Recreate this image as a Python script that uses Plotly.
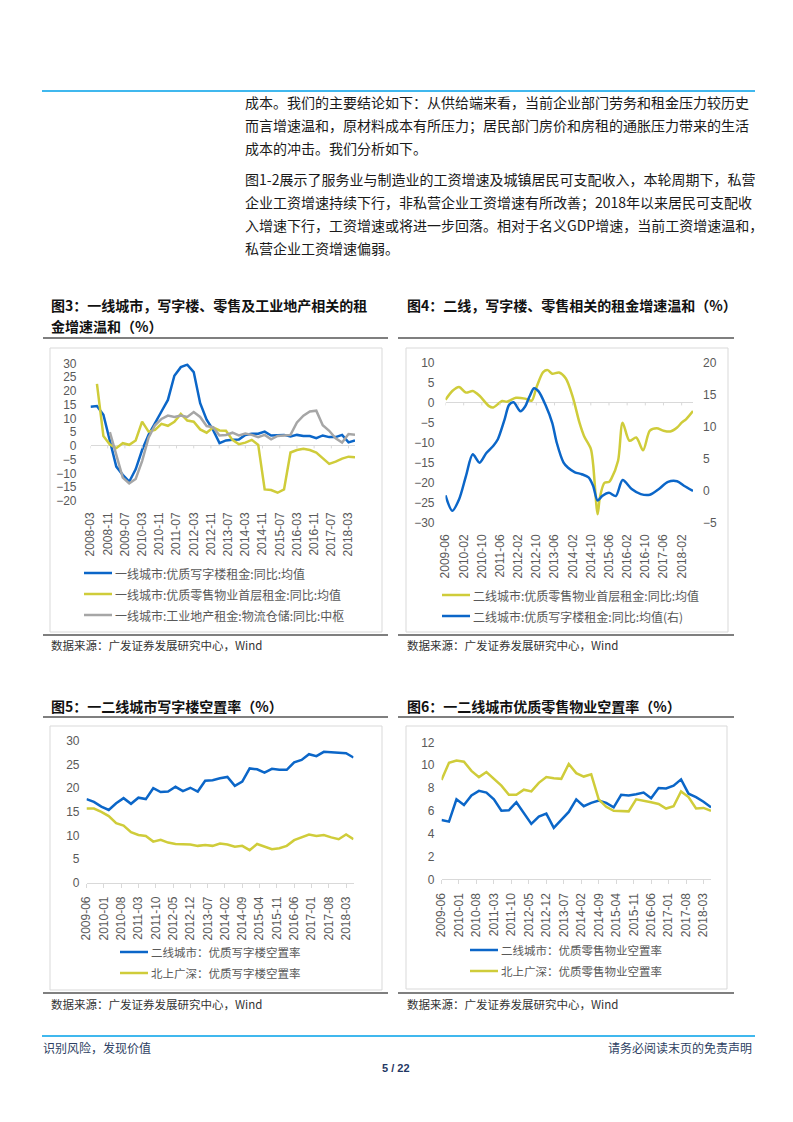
import plotly.graph_objects as go

# ---------------- DATA ----------------
# Fig 3: quarterly, 2008-03 .. 2018-06
f3_start = "2008-03"
f3_blue = [14.2, 14.5, 11.3, 2.0, -7.5, -10.5, -13.0, -8.5, -1.5, 4.0, 8.5, 12.5, 16.7, 25.5,
           28.6, 29.5, 26.8, 15.5, 9.5, 5.8, 1.0, 2.0, 2.2, 2.3, 4.0, 4.4, 4.4, 5.2, 3.8, 4.0,
           4.0, 3.4, 4.0, 3.6, 3.6, 2.8, 3.8, 3.2, 3.2, 4.0, 1.3, 2.0]
f3_yellow = [None, 22.5, 3.6, 0.5, -0.8, 1.0, 0.4, 2.0, 8.8, 5.2, 5.8, 8.0, 7.3, 8.8, 11.6, 9.2,
             8.8, 6.0, 4.8, 6.7, 5.6, 5.5, 2.2, 0.6, 1.2, 2.2, 0.4, -15.8, -16.0, -17.0, -15.8,
             -2.4, -1.5, -1.0, -1.5, -2.4, -4.5, -6.5, -5.7, -4.6, -3.9, -4.1]
f3_gray = [None, None, None, 5.0, -3.0, -11.5, -13.6, -12.0, -5.5, 3.0, 7.5, 9.8, 11.0, 10.5,
           11.0, 10.5, 12.3, 10.5, 7.2, 6.8, 3.8, 4.0, 4.8, 3.8, 4.5, 4.0, 3.2, 4.0, 2.4, 3.6,
           3.8, 4.0, 8.5, 11.0, 12.5, 12.8, 7.5, 5.5, 2.8, 1.2, 4.3, 4.1]
f3_ticks = ["2008-03", "2008-11", "2009-07", "2010-03", "2010-11", "2011-07", "2012-03",
            "2012-11", "2013-07", "2014-03", "2014-11", "2015-07", "2016-03", "2016-11",
            "2017-07", "2018-03"]
f3_names = ["一线城市:优质写字楼租金:同比:均值", "一线城市:优质零售物业首层租金:同比:均值",
            "一线城市:工业地产租金:物流仓储:同比:中枢"]

# Fig 4
f4_start = "2009-06"
f4_yellow_dates = ["2009-06", "2009-09", "2009-12", "2010-03", "2010-06", "2010-09", "2011-01",
                   "2011-03", "2011-07", "2011-09", "2012-01", "2012-05", "2012-08", "2012-10",
                   "2013-01", "2013-03", "2013-05", "2013-08", "2013-11", "2014-02", "2014-05",
                   "2014-07", "2014-10", "2014-11", "2015-01", "2015-02", "2015-04", "2015-06",
                   "2015-07", "2015-10", "2015-12", "2016-03", "2016-06", "2016-09", "2016-12",
                   "2017-03", "2017-06", "2017-09", "2017-12", "2018-02", "2018-04", "2018-07"]
f4_yellow = [0.7, 2.9, 3.9, 2.5, 2.9, 1.7, -0.8, -1.2, 0.4, 0.2, 1.2, 1.0, 0.5, 3.7, 7.6, 8.1,
             7.2, 7.5, 6.0, 1.5, -5.0, -8.3, -11.5, -15.3, -27.8, -23.6, -20.0, -19.8, -19.0,
             -14.5, -5.0, -9.5, -8.7, -11.9, -7.0, -6.4, -7.0, -7.2, -6.2, -5.0, -4.1, -2.1]
f4_blue_dates = ["2009-06", "2009-09", "2009-12", "2010-03", "2010-06", "2010-09", "2010-12",
                 "2011-03", "2011-05", "2011-08", "2011-10", "2011-12", "2012-03", "2012-05",
                 "2012-07", "2012-09", "2012-11", "2013-02", "2013-05", "2013-07", "2013-10",
                 "2013-12", "2014-03", "2014-06", "2014-09", "2014-11", "2015-01", "2015-03",
                 "2015-06", "2015-09", "2015-12", "2016-04", "2016-08", "2016-12", "2017-04",
                 "2017-08", "2017-12", "2018-03", "2018-07"]
f4_blue = [-0.7, -3.1, -1.3, 2.3, 5.7, 4.4, 5.9, 7.0, 8.0, 11.1, 13.4, 13.8, 12.4, 13.1, 14.7,
           16.0, 15.5, 13.4, 10.6, 7.5, 4.4, 3.6, 2.9, 2.6, 2.1, 0.8, -1.5, -0.8, -0.3, -0.8,
           1.7, 0.3, -0.5, -0.6, 0.3, 1.4, 1.5, 0.8, 0.0]
f4_ticks = ["2009-06", "2010-02", "2010-10", "2011-06", "2012-02", "2012-10", "2013-06",
            "2014-02", "2014-10", "2015-06", "2016-02", "2016-10", "2017-06", "2018-02"]
f4_names = ["二线城市:优质零售物业首层租金:同比:均值", "二线城市:优质写字楼租金:同比:均值(右)"]

# Fig 5 / Fig 6: quarterly, 2009-06 .. 2018-06
f56_start = "2009-06"
f5_blue = [17.7, 17.1, 16.1, 15.4, 16.8, 17.9, 16.7, 18.0, 17.7, 20.0, 19.2, 19.3, 20.3, 19.4,
           20.1, 19.3, 21.6, 21.7, 22.1, 22.4, 20.5, 21.4, 24.2, 24.0, 23.3, 24.1, 23.9, 23.9,
           25.5, 26.0, 27.2, 26.8, 27.7, 27.6, 27.4, 27.4, 26.5]
f5_yellow = [15.7, 15.7, 15.0, 14.1, 12.6, 12.1, 10.7, 10.1, 9.9, 8.7, 9.1, 8.5, 8.2, 8.2, 8.1,
             7.8, 8.0, 7.8, 8.3, 8.1, 7.6, 7.8, 6.9, 8.2, 7.6, 7.1, 7.3, 7.8, 9.0, 9.6, 10.2,
             9.9, 10.1, 9.6, 9.2, 10.2, 9.2]
f6_blue = [5.2, 5.05, 7.0, 6.5, 7.35, 7.75, 7.6, 7.0, 6.0, 6.05, 6.75, 5.8, 4.85, 5.5, 5.75,
           4.5, 5.2, 5.9, 7.0, 6.4, 6.7, 6.9, 6.7, 6.3, 7.4, 7.35, 7.45, 7.6, 7.1, 8.0, 7.95,
           8.2, 8.75, 7.5, 7.2, 6.8, 6.3]
f6_yellow = [8.7, 10.2, 10.4, 10.3, 9.5, 8.95, 9.4, 8.8, 8.2, 7.4, 7.4, 7.85, 7.7, 8.45, 8.95,
             8.85, 8.8, 10.1, 9.3, 9.0, 9.2, 7.0, 6.35, 6.0, 6.0, 5.95, 7.0, 6.9, 6.75, 6.6,
             6.2, 6.4, 7.7, 7.2, 6.2, 6.25, 6.0]
f56_ticks = ["2009-06", "2010-01", "2010-08", "2011-03", "2011-10", "2012-05", "2012-12",
             "2013-07", "2014-02", "2014-09", "2015-04", "2015-11", "2016-06", "2017-01",
             "2017-08", "2018-03"]
f5_names = ["二线城市：优质写字楼空置率", "北上广深：优质写字楼空置率"]
f6_names = ["二线城市：优质零售物业空置率", "北上广深：优质零售物业空置率"]

body_lines = [
    "成本。我们的主要结论如下：从供给端来看，当前企业部门劳务和租金压力较历史",
    "而言增速温和，原材料成本有所压力；居民部门房价和房租的通胀压力带来的生活",
    "成本的冲击。我们分析如下。",
    "图1-2展示了服务业与制造业的工资增速及城镇居民可支配收入，本轮周期下，私营",
    "企业工资增速持续下行，非私营企业工资增速有所改善；2018年以来居民可支配收",
    "入增速下行，工资增速或将进一步回落。相对于名义GDP增速，当前工资增速温和，",
    "私营企业工资增速偏弱。",
]

# ---------------- HELPERS ----------------
W, H = 793, 1122
BLUE, YELLOW, GRAY = "#0b66c8", "#cfcc3a", "#a6a6a6"
CJK = "Noto Sans CJK SC"
NUM = "Liberation Sans, Arial"
TICK = "#595959"


def px(x):
    return x / W


def py(y):
    return 1 - y / H


def midx(s, start):
    y, m = map(int, s.split("-"))
    y0, m0 = map(int, start.split("-"))
    return (y - y0) * 12 + (m - m0)


def quarters(start, n):
    y, m = map(int, start.split("-"))
    out = []
    for i in range(n):
        mm = m - 1 + 3 * i
        out.append("%d-%02d" % (y + mm // 12, mm % 12 + 1))
    return out


fig = go.Figure()

# Fig 3 traces
d3 = quarters(f3_start, len(f3_blue))
x3 = [midx(d, f3_start) for d in d3]
for vals, col, nm in [(f3_blue, BLUE, f3_names[0]), (f3_yellow, YELLOW, f3_names[1]),
                      (f3_gray, GRAY, f3_names[2])]:
    fig.add_trace(go.Scatter(x=x3, y=vals, mode="lines", name=nm, xaxis="x", yaxis="y",
                             line=dict(color=col, width=2.5), connectgaps=False))

# Fig 4 traces
fig.add_trace(go.Scatter(x=[midx(d, f4_start) for d in f4_yellow_dates], y=f4_yellow,
                         mode="lines", name=f4_names[0], xaxis="x2", yaxis="y2",
                         line=dict(color=YELLOW, width=2.5, shape="spline", smoothing=0.8)))
fig.add_trace(go.Scatter(x=[midx(d, f4_start) for d in f4_blue_dates], y=f4_blue,
                         mode="lines", name=f4_names[1], xaxis="x2", yaxis="y3",
                         line=dict(color=BLUE, width=2.5, shape="spline", smoothing=0.8)))

# Fig 5 / 6 traces
d56 = quarters(f56_start, len(f5_blue))
x56 = [midx(d, f56_start) for d in d56]
fig.add_trace(go.Scatter(x=x56, y=f5_blue, mode="lines", name=f5_names[0], xaxis="x3",
                         yaxis="y4", line=dict(color=BLUE, width=2.5)))
fig.add_trace(go.Scatter(x=x56, y=f5_yellow, mode="lines", name=f5_names[1], xaxis="x3",
                         yaxis="y4", line=dict(color=YELLOW, width=2.5)))
fig.add_trace(go.Scatter(x=x56, y=f6_blue, mode="lines", name=f6_names[0], xaxis="x4",
                         yaxis="y5", line=dict(color=BLUE, width=2.5)))
fig.add_trace(go.Scatter(x=x56, y=f6_yellow, mode="lines", name=f6_names[1], xaxis="x4",
                         yaxis="y5", line=dict(color=YELLOW, width=2.5)))

tf = dict(family=NUM, size=12, color=TICK)


def xax(dom, rng, tickvals, ticktext, anchor, line=False):
    d = dict(domain=[px(dom[0]), px(dom[1])], range=rng, anchor=anchor, tickmode="array",
             tickvals=tickvals, ticktext=ticktext, tickangle=-90, showgrid=False,
             zeroline=False, tickfont=tf, fixedrange=True, automargin=False)
    if line:
        d.update(showline=True, linecolor="#d9d9d9", linewidth=1, ticks="outside",
                 ticklen=4, tickcolor="#d9d9d9", ticklabelstandoff=4)
    else:
        d.update(showline=False, ticks="", ticklabelstandoff=8)
    return d


def yax(dom, rng, dtick, anchor, zero=False, standoff=10, **kw):
    d = dict(domain=[py(dom[1]), py(dom[0])], range=rng, anchor=anchor, dtick=dtick,
             tick0=0, showgrid=False, showline=False, ticks="", tickfont=tf,
             ticklabelstandoff=standoff, zeroline=zero, fixedrange=True, automargin=False)
    if zero:
        d.update(zerolinecolor="#d9d9d9", zerolinewidth=1)
    d.update(kw)
    return d


t3 = [midx(t, f3_start) for t in f3_ticks]
t4 = [midx(t, f4_start) for t in f4_ticks]
t56 = [midx(t, f56_start) for t in f56_ticks]

layout = dict(
    template="none",
    width=W, height=H, margin=dict(l=0, r=0, t=0, b=0, pad=0, autoexpand=False),
    showlegend=False,
    paper_bgcolor="white", plot_bgcolor="rgba(0,0,0,0)",
    xaxis=xax((90.5, 355), [0, 123], t3, f3_ticks, "y"),
    yaxis=yax((363.3, 501), [-20, 30], 5, "x", zero=True, standoff=13),
    xaxis2=xax((445.5, 693), [0, 109], t4, f4_ticks, "y2"),
    yaxis2=yax((362.5, 523), [-30, 10], 5, "x2", zero=True, standoff=10),
    yaxis3=yax((362.5, 523), [-5, 20], 5, "x2", standoff=9, overlaying="y2", side="right"),
    xaxis3=xax((86.5, 353.5), [0, 108], t56, f56_ticks, "y4", line=True),
    yaxis4=yax((741, 882.7), [0, 30], 5, "x3", standoff=6),
    xaxis4=xax((441.5, 711), [0, 108], t56, f56_ticks, "y5", line=True),
    yaxis5=yax((742.3, 879.3), [0, 12], 2, "x4", standoff=6),
)
fig.update_layout(**layout)

shapes = []
ann = []


def hline(x0, x1, y, color, width=1):
    shapes.append(dict(type="line", xref="paper", yref="paper", x0=px(x0), x1=px(x1),
                       y0=py(y), y1=py(y), line=dict(color=color, width=width)))


def box(x0, x1, y0, y1):
    shapes.append(dict(type="rect", xref="paper", yref="paper", x0=px(x0), x1=px(x1),
                       y0=py(y1), y1=py(y0), line=dict(color="#d9d9d9", width=1),
                       fillcolor="rgba(0,0,0,0)", layer="below"))


def text(x, y, s, size=12, color="#222222", anchor="left", bold=False, family=CJK):
    ann.append(dict(xref="paper", yref="paper", x=px(x), y=py(y), text=("<b>%s</b>" % s) if bold else s,
                    showarrow=False, xanchor=anchor, yanchor="middle",
                    font=dict(family=family, size=size, color=color), borderpad=0))


def legend_item(x, y, color, label, size=12):
    shapes.append(dict(type="line", xref="paper", yref="paper", x0=px(x), x1=px(x + 28),
                       y0=py(y), y1=py(y), line=dict(color=color, width=2.5)))
    text(x + 30, y, label, size=size, color=TICK)


# page rules
hline(42, 755, 91, "#00a0e9", 1.5)
hline(42, 755, 1036, "#00a0e9", 1.5)

# body text
for s, yy in zip(body_lines, [102, 125, 148, 179, 202, 225, 248]):
    text(244, yy, s, size=14, color="#1a1a1a")

# titles
text(50, 305, "图3：一线城市，写字楼、零售及工业地产相关的租", size=14, color="#111111", bold=True)
text(50, 326, "金增速温和（%）", size=14, color="#111111", bold=True)
text(406, 305, "图4：二线，写字楼、零售相关的租金增速温和（%）", size=14, color="#111111", bold=True)
text(50, 706, "图5：一二线城市写字楼空置率（%）", size=14, color="#111111", bold=True)
text(406, 706, "图6：一二线城市优质零售物业空置率（%）", size=14, color="#111111", bold=True)

# title rules, boxes, bottom rules, sources
hline(43, 388, 338, "#000000", 1.2)
hline(398, 734, 338, "#000000", 1.2)
box(50, 382, 348, 632)
box(406, 728, 348, 632)
hline(43, 388, 635, "#000000", 1.2)
hline(398, 734, 635, "#000000", 1.2)
hline(43, 388, 717, "#000000", 1.2)
hline(398, 734, 717, "#000000", 1.2)
box(50, 382, 726, 990)
box(406, 727, 726, 989)
hline(43, 388, 993, "#000000", 1.2)
hline(398, 734, 993, "#000000", 1.2)
src = "数据来源：广发证券发展研究中心，Wind"
for (sx, sy) in [(50, 645), (406, 645), (50, 1004), (406, 1004)]:
    text(sx, sy, src, size=11.5, color="#333333")

# tick marks on zero lines (fig 3 & 4)
for tv in t3:
    shapes.append(dict(type="line", xref="x", yref="y", x0=tv, x1=tv, y0=0, y1=-0.9,
                       line=dict(color="#d9d9d9", width=1)))
for tv in t4:
    shapes.append(dict(type="line", xref="x2", yref="y2", x0=tv, x1=tv, y0=0, y1=-0.7,
                       line=dict(color="#d9d9d9", width=1)))

# legends
for yy, col, nm in zip([573, 594, 615], [BLUE, YELLOW, GRAY], f3_names):
    legend_item(84, yy, col, nm)
for yy, col, nm in zip([595, 616], [YELLOW, BLUE], f4_names):
    legend_item(442, yy, col, nm)
for yy, col, nm in zip([952, 973], [BLUE, YELLOW], f5_names):
    legend_item(120, yy, col, nm, size=11.5)
for yy, col, nm in zip([950, 971], [BLUE, YELLOW], f6_names):
    legend_item(470, yy, col, nm, size=11.5)

# footer
text(42, 1047, "识别风险，发现价值", size=12, color="#2e3f63")
text(753, 1047, "请务必阅读末页的免责声明", size=12, color="#2e3f63", anchor="right")
text(396, 1068, "5 / 22", size=11, color="#1f3864", anchor="center", bold=True, family=NUM)

fig.update_layout(shapes=shapes, annotations=ann)
fig.write_html(
    "out.html",
    config={"displayModeBar": False, "staticPlot": True},
    post_script="document.documentElement.style.margin='0';document.body.style.margin='0';"
                "document.body.style.padding='0';document.documentElement.style.overflow='hidden';",
)
